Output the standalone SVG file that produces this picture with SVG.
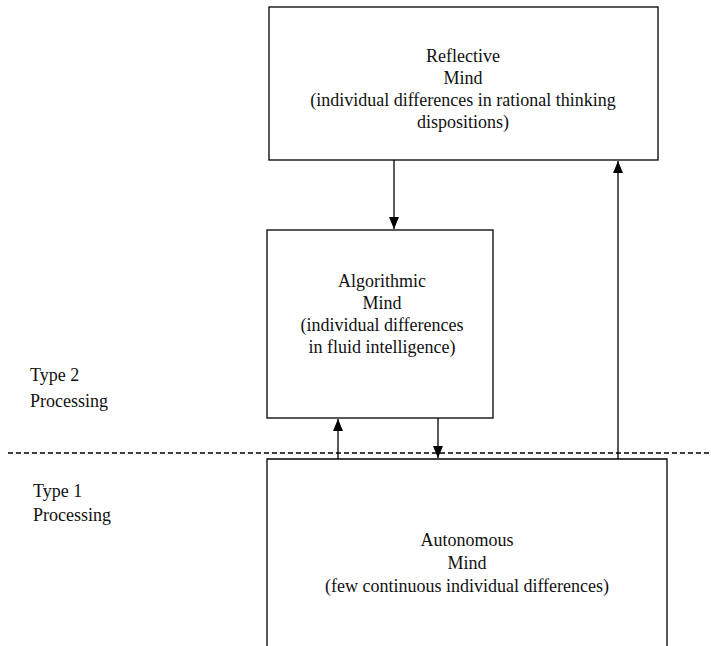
<svg xmlns="http://www.w3.org/2000/svg" width="711" height="646" viewBox="0 0 711 646">
<style>
  .box { fill: #fff; stroke: #000; stroke-width: 1.3; }
  .t { font-family: "Liberation Serif", "DejaVu Serif", serif; font-size: 18px; fill: #111; text-anchor: middle; }
  .lbl { font-family: "Liberation Serif", "DejaVu Serif", serif; font-size: 18px; fill: #111; }
  .ln { stroke: #000; stroke-width: 1.3; fill: none; }
</style>
<defs>
  <marker id="ah" viewBox="0 0 12 10" refX="12" refY="5" markerWidth="12" markerHeight="10" markerUnits="userSpaceOnUse" orient="auto">
    <path d="M0,0 L12,5 L0,10 z" fill="#000"/>
  </marker>
</defs>
<rect width="711" height="646" fill="#fff"/>
<line x1="8" y1="453" x2="711" y2="453" stroke="#000" stroke-width="1.3" stroke-dasharray="5,3"/>
<g id="reflective">
  <rect class="box" x="269" y="7" width="389" height="153"/>
  <text class="t" x="463" y="62">Reflective</text>
  <text class="t" x="463" y="84">Mind</text>
  <text class="t" x="463" y="106">(individual differences in rational thinking</text>
  <text class="t" x="463" y="128">dispositions)</text>
</g>
<g id="algorithmic">
  <rect class="box" x="267" y="230" width="226" height="188"/>
  <text class="t" x="382" y="287">Algorithmic</text>
  <text class="t" x="382" y="309">Mind</text>
  <text class="t" x="382" y="331">(individual differences</text>
  <text class="t" x="382" y="353">in fluid intelligence)</text>
</g>
<g id="autonomous">
  <path class="box" d="M267,646 L267,459 L667,459 L667,646"/>
  <text class="t" x="467" y="546">Autonomous</text>
  <text class="t" x="467" y="569">Mind</text>
  <text class="t" x="467" y="592">(few continuous individual differences)</text>
</g>
<g id="type2">
  <text class="lbl" x="30" y="381">Type 2</text>
  <text class="lbl" x="30" y="407">Processing</text>
</g>
<g id="type1">
  <text class="lbl" x="33" y="497">Type 1</text>
  <text class="lbl" x="33" y="521">Processing</text>
</g>
<g id="connectors">
  <line class="ln" x1="394" y1="160" x2="394" y2="229" marker-end="url(#ah)"/>
  <line class="ln" x1="618" y1="459" x2="618" y2="161" marker-end="url(#ah)"/>
  <line class="ln" x1="338" y1="459" x2="338" y2="419" marker-end="url(#ah)"/>
  <line class="ln" x1="438" y1="418" x2="438" y2="458" marker-end="url(#ah)"/>
</g>
</svg>
